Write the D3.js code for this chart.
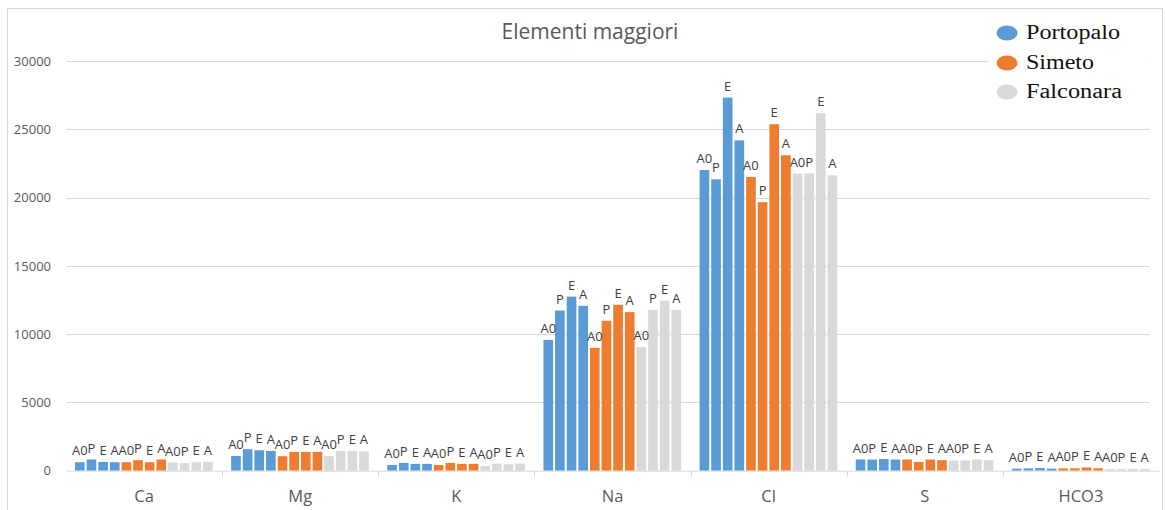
<!DOCTYPE html>
<html>
<head>
<meta charset="utf-8">
<script src="https://cdn.jsdelivr.net/npm/d3@7"></script>
<style>
  html, body { margin: 0; padding: 0; background: #fff; }
  svg { display: block; }
</style>
</head>
<body>
<svg id="chart" width="1165" height="510"></svg>
<script>
// ---- data ----
const title = "Elementi maggiori";
const categories = ["Ca", "Mg", "K", "Na", "Cl", "S", "HCO3"];
const sites = ["Portopalo", "Simeto", "Falconara"];
const samples = ["A0", "P", "E", "A"];
const yTicks = [0, 5000, 10000, 15000, 20000, 25000, 30000];
// values per category, in order of samples A0, P, E, A
const portopalo = [
  [620, 820, 640, 620],
  [1080, 1570, 1500, 1450],
  [420, 570, 500, 500],
  [9580, 11730, 12750, 12070],
  [22020, 21340, 27320, 24190],
  [820, 820, 860, 820],
  [150, 170, 200, 150]
];
const simeto = [
  [620, 770, 620, 820],
  [1060, 1380, 1380, 1380],
  [420, 570, 500, 500],
  [9000, 10980, 12150, 11610],
  [21510, 19660, 25370, 23100],
  [820, 640, 820, 770],
  [170, 180, 240, 180]
];
const falconara = [
  [600, 555, 620, 650],
  [1060, 1450, 1450, 1420],
  [350, 520, 470, 520],
  [9050, 11780, 12460, 11780],
  [21760, 21760, 26170, 21630],
  [750, 750, 820, 770],
  [120, 120, 130, 120]
];
const siteValues = [portopalo, simeto, falconara];
const colors = ["#5b9bd5", "#ed7d31", "#d9d9d9"];

// ---- layout ----
const svg = d3.select("#chart");
const plot = { left: 66, right: 1159, top: 61, bottom: 470.7 };

svg.append("rect")
  .attr("x", 7.5).attr("y", 8.5)
  .attr("width", 1155).attr("height", 520)
  .attr("fill", "#fff").attr("stroke", "#d9d9d9").attr("stroke-width", 1);

const x = d3.scaleBand().domain(categories).range([plot.left, plot.right]).padding(0);
const keys = [];
sites.forEach((s, si) => samples.forEach((m, mi) => keys.push(si + "_" + mi)));
const bw = x.bandwidth();
const xi = d3.scaleBand().domain(keys).range([9, bw - 9.5]).paddingInner(0.17).paddingOuter(0);
const y = d3.scaleLinear().domain([0, 30000]).range([plot.bottom, plot.top]);

// gridlines
svg.append("g").selectAll("line")
  .data(yTicks.filter(d => d > 0))
  .join("line")
  .attr("x1", plot.left).attr("x2", plot.right - 9)
  .attr("y1", d => Math.round(y(d)) + 0.5).attr("y2", d => Math.round(y(d)) + 0.5)
  .attr("stroke", "#d9d9d9").attr("stroke-width", 1);

// y axis labels
const yAxis = d3.axisLeft(y).tickValues(yTicks).tickSize(0).tickPadding(0).tickFormat(d3.format("d"));
const gy = svg.append("g").attr("transform", `translate(51,0)`).call(yAxis);
gy.select(".domain").remove();
gy.selectAll("text")
  .attr("font-family", "Open Sans").attr("font-size", 13).attr("fill", "#595959");

// bars
const flat = [];
categories.forEach((c, ci) => {
  siteValues.forEach((arr, si) => {
    samples.forEach((m, mi) => {
      flat.push({ cat: c, key: si + "_" + mi, site: si, sample: m, value: arr[ci][mi] });
    });
  });
});

const gBars = svg.append("g");
gBars.selectAll("rect")
  .data(flat)
  .join("rect")
  .attr("x", d => x(d.cat) + xi(d.key))
  .attr("width", xi.bandwidth())
  .attr("y", d => y(d.value))
  .attr("height", d => plot.bottom - y(d.value))
  .attr("fill", d => colors[d.site]);

// x axis
const xAxis = d3.axisBottom(x).tickSize(0).tickPadding(20);
const gx = svg.append("g").attr("transform", `translate(0,${plot.bottom})`).call(xAxis);
gx.select(".domain").attr("stroke", "#d9d9d9");
gx.selectAll("text")
  .attr("font-family", "Open Sans").attr("font-size", 16.5).attr("fill", "#595959")
  .attr("dy", "0.71em");
// boundary ticks
svg.append("g").selectAll("line")
  .data(categories.slice(1))
  .join("line")
  .attr("x1", d => Math.round(x(d)) + 0.5).attr("x2", d => Math.round(x(d)) + 0.5)
  .attr("y1", plot.bottom).attr("y2", plot.bottom + 6)
  .attr("stroke", "#d9d9d9");

// data labels
svg.append("g").selectAll("text")
  .data(flat)
  .join("text")
  .attr("x", d => x(d.cat) + xi(d.key) + xi.bandwidth() / 2)
  .attr("y", d => y(d.value) - 7)
  .attr("text-anchor", "middle")
  .attr("font-family", "Open Sans").attr("font-size", 13).attr("fill", "#404040")
  .text(d => d.sample);

// title
svg.append("text")
  .attr("x", 590).attr("y", 39)
  .attr("text-anchor", "middle")
  .attr("font-family", "Open Sans").attr("font-size", 21).attr("fill", "#595959")
  .text(title);

// legend
const lg = svg.append("g");
lg.append("rect").attr("x", 988).attr("y", 16).attr("width", 161).attr("height", 94).attr("fill", "#fff");
const legendY = [33, 63, 92];
const legendW = [94, 68, 96];
lg.selectAll("ellipse")
  .data(sites)
  .join("ellipse")
  .attr("cx", 1007).attr("cy", (d, i) => legendY[i])
  .attr("rx", 10.5).attr("ry", 7.5)
  .attr("fill", (d, i) => colors[i]);
lg.selectAll("text")
  .data(sites)
  .join("text")
  .attr("x", 1026).attr("y", (d, i) => legendY[i] + 6)
  .attr("font-family", "Liberation Serif").attr("font-size", 20).attr("fill", "#111")
  .attr("textLength", (d, i) => legendW[i]).attr("lengthAdjust", "spacingAndGlyphs")
  .text(d => d);
</script>
</body>
</html>
